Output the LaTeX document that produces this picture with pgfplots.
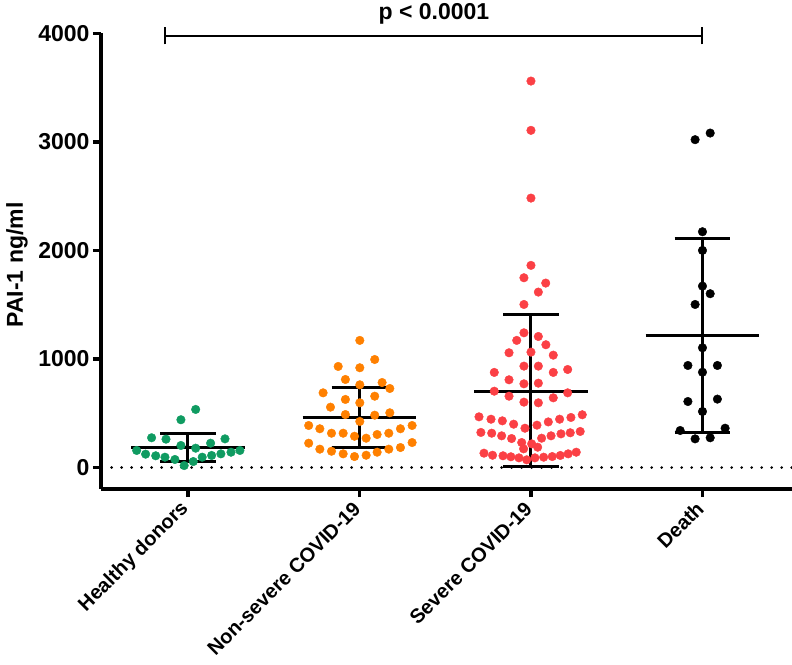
\documentclass[border=0pt]{standalone}
\usepackage{pgfplots}
\pgfplotsset{compat=1.18}
\usepackage{fontspec}
\setmainfont{Liberation Sans}
\definecolor{cg}{HTML}{0F9B61}
\definecolor{co}{HTML}{FF8000}
\definecolor{cr}{HTML}{FB4045}
\begin{document}
\begin{tikzpicture}
\useasboundingbox (-101pt,-175pt) rectangle (691pt,489pt);
\begin{axis}[
  at={(0pt,0pt)}, anchor=south west,
  scale only axis, width=691pt, height=455.7pt,
  xmin=-0.507, xmax=3.522, ymin=-198, ymax=4000,
  axis x line*=bottom, axis y line*=left,
  axis line style={line width=3.6pt, -},
  ytick={0,1000,2000,3000,4000},
  xtick={0,1,2,3},
  xticklabels={Healthy donors, Non-severe COVID-19, Severe COVID-19, Death},
  tick align=outside, major tick length=8pt,
  tick style={line width=3.4pt, black},
  ticklabel style={font=\fontsize{23}{27}\selectfont\bfseries},
  x tick label style={rotate=45, anchor=east, font=\fontsize{20}{24}\selectfont\bfseries},
  xticklabel shift=6pt,
  /pgf/number format/assume math mode=true,
  /pgf/number format/1000 sep={},
  ylabel={PAI-1 ng/ml},
  ylabel style={at={(axis description cs:-0.1216,0.4916)}, anchor=center, font=\fontsize{23}{27}\selectfont\bfseries},
  clip=false,
]
% zero dotted line
\addplot[black, line width=2.8pt, dash pattern=on 0pt off 10pt, line cap=round] coordinates {(-0.445,0) (3.52,0)};
% Healthy donors
\addplot[only marks, mark=*, mark size=4.3pt, cg] coordinates {
(0.045,535) (-0.041,440) (-0.212,274) (-0.128,261) (0.216,264) (0.132,224)
(-0.041,203) (0.045,178) (-0.299,157) (-0.247,123) (-0.188,108) (-0.134,95)
(-0.076,74) (-0.022,18) (0.031,55) (0.083,95) (0.138,111) (0.192,126)
(0.251,141) (0.303,157)};
% Non-severe
\addplot[only marks, mark=*, mark size=4.3pt, co] coordinates {
(1.002,1171) (1.089,995) (0.876,931) (1.002,919) (0.918,811) (1.002,762)
(1.132,783) (1.177,728) (0.788,688) (1.089,657) (0.918,627) (1.002,596)
(0.831,556) (0.918,488) (1.089,482) (1.177,504) (1.002,424) (0.704,387)
(0.769,357) (1.307,387) (1.239,357) (0.837,316) (0.905,316) (1.171,316)
(1.103,304) (0.971,288) (1.039,270) (0.704,224) (1.307,230) (0.769,169)
(1.239,184) (0.837,150) (1.171,169) (0.905,126) (1.103,141) (0.971,101)
(1.039,113)};
% Severe
\addplot[only marks, mark=*, mark size=4.3pt, cr] coordinates {
(2.0,3560) (2.0,3106) (2.0,2482) (2.0,1862) (1.959,1748) (2.086,1699)
(2.043,1616) (1.959,1502) (1.959,1241) (1.917,1171) (2.043,1207) (2.087,1131)
(1.872,1057) (2.0,1063) (2.130,1035) (1.959,934) (2.043,934) (1.786,876)
(2.130,876) (2.214,903) (1.872,808) (1.959,771) (2.043,777) (1.786,703)
(2.214,688) (1.872,657) (2.130,642) (1.959,602) (2.043,596)
(1.697,467) (1.767,445) (1.833,430) (1.899,399) (1.965,362) (2.035,390)
(2.101,420) (2.167,445) (2.233,461) (2.299,486)
(1.708,323) (1.771,316) (1.829,292) (1.887,267) (1.946,230) (2.062,270)
(2.117,292) (2.175,310) (2.229,320) (2.287,332) (2.004,218) (1.957,172)
(2.039,187)
(1.726,132) (1.776,113) (1.837,108) (1.883,99) (1.930,89) (1.975,71)
(2.023,89) (2.074,95) (2.124,101) (2.171,111) (2.217,126) (2.264,141)};
% Death
\addplot[only marks, mark=*, mark size=4.3pt, black] coordinates {
(3.045,3081) (2.957,3020) (3.0,2172) (3.0,2000) (3.0,1671) (3.045,1601)
(2.957,1502) (3.0,1103) (2.915,940) (3.087,940) (3.0,878) (2.915,608)
(3.087,630) (3.0,516) (2.870,341) (3.132,362) (2.957,264) (3.045,274)};
% mean and SD bars
\addplot[black, line width=3pt] coordinates {(-0.332,181) (0.332,181)};
\addplot[black, line width=3pt] coordinates {(0,58) (0,310)};
\addplot[black, line width=3pt] coordinates {(-0.163,58) (0.163,58)};
\addplot[black, line width=3pt] coordinates {(-0.163,310) (0.163,310)};
\addplot[black, line width=3pt] coordinates {(0.668,461) (1.332,461)};
\addplot[black, line width=3pt] coordinates {(1,184) (1,740)};
\addplot[black, line width=3pt] coordinates {(0.837,184) (1.163,184)};
\addplot[black, line width=3pt] coordinates {(0.837,740) (1.163,740)};
\addplot[black, line width=3pt] coordinates {(1.668,703) (2.332,703)};
\addplot[black, line width=3pt] coordinates {(2,5) (2,1410)};
\addplot[black, line width=3pt] coordinates {(1.837,5) (2.163,5)};
\addplot[black, line width=3pt] coordinates {(1.837,1410) (2.163,1410)};
\addplot[black, line width=3pt] coordinates {(2.668,1217) (3.332,1217)};
\addplot[black, line width=3pt] coordinates {(3,325) (3,2108)};
\addplot[black, line width=3pt] coordinates {(2.837,325) (3.163,325)};
\addplot[black, line width=3pt] coordinates {(2.837,2108) (3.163,2108)};
% significance bracket
\addplot[black, line width=2pt] coordinates {(-0.134,3972) (3.0,3972)};
\addplot[black, line width=2pt] coordinates {(-0.134,3899) (-0.134,4055)};
\addplot[black, line width=2pt] coordinates {(3.0,3899) (3.0,4055)};
\node[font=\fontsize{23}{27}\selectfont\bfseries, anchor=base] at (axis cs:1.434,4123) {p < 0.0001};
\end{axis}
\end{tikzpicture}
\end{document}
